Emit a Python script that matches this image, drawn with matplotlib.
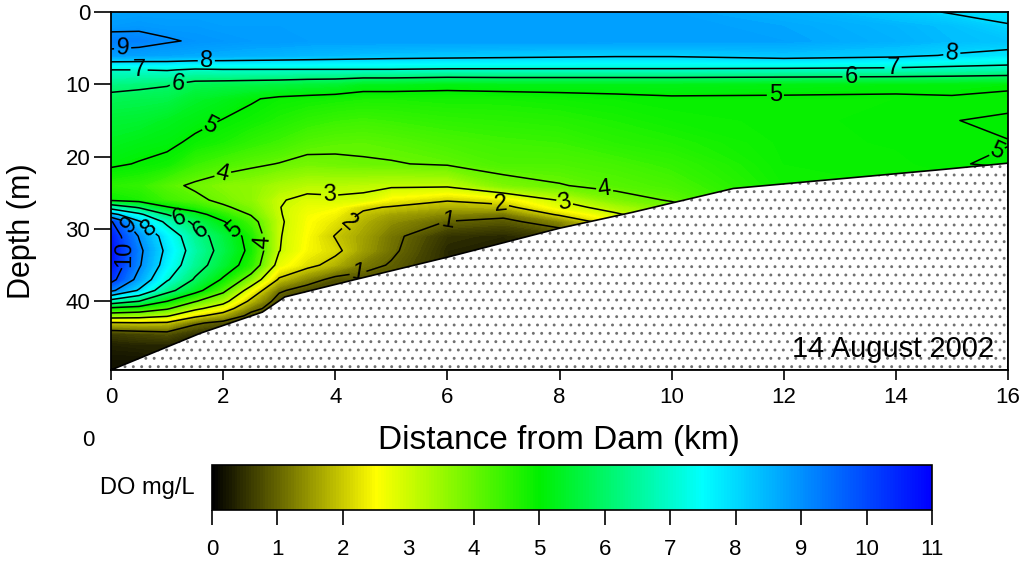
import numpy as np
import matplotlib
matplotlib.use("Agg")
import matplotlib.pyplot as plt
from matplotlib.colors import LinearSegmentedColormap, Normalize
from matplotlib.patches import Polygon

plt.rcParams['font.family'] = 'Liberation Sans'
plt.rcParams['hatch.linewidth'] = 0.9

# stations along the reservoir (km from dam) and sample depths (m)
distance_km = [0, 0.5, 1, 1.5, 2, 2.5, 3, 3.5, 4, 4.5, 5, 6, 7, 8, 9, 10, 12, 14, 15, 16]
depth_m = [0, 2, 4, 6, 8, 10, 12, 15, 18, 21, 24, 26, 27, 28, 29, 31,
           33, 35, 37, 38.5, 40, 41, 42, 43, 44.5, 46, 48, 50]

# dissolved oxygen (mg/L), one profile per station, top to bottom
do_profiles = [
    [8.7, 8.85, 9.25, 8.8, 7.0, 6.25, 5.8, 5.5, 5.3, 5.08, 4.6, 4.9, 6.6, 8.3,
     10.1, 10.6, 10.8, 10.7, 10.3, 9.2, 6.6, 4.8, 3.5, 1.9, 0.6, 0.35, 0.2, 0.1],
    [8.75, 8.9, 9.2, 8.75, 7.0, 6.15, 5.75, 5.45, 5.2, 4.97, 4.5, 4.75, 5.9, 7.2,
     8.1, 8.95, 9.2, 9.1, 8.7, 7.9, 6.0, 4.6, 3.4, 1.95, 0.7, 0.4, 0.2, 0.2],
    [8.75, 8.85, 9.05, 8.7, 7.05, 6.05, 5.7, 5.3, 5.12, 4.85, 4.15, 4.4, 5.05, 6.0,
     6.8, 7.6, 7.8, 7.6, 7.1, 6.3, 5.0, 4.1, 3.1, 1.9, 0.8, 0.4, 0.3, 0.3],
    [8.75, 8.85, 8.95, 8.65, 6.9, 5.75, 5.4, 5.15, 4.9, 4.45, 3.9, 4.15, 4.6, 5.3,
     5.8, 6.4, 6.6, 6.4, 5.9, 5.3, 4.05, 3.2, 2.2, 1.1, 0.5, 0.4, 0.4, 0.4],
    [8.75, 8.8, 8.9, 8.6, 6.95, 5.7, 5.25, 4.98, 4.75, 4.25, 3.7, 3.85, 4.1, 4.6,
     5.05, 5.6, 5.7, 5.5, 4.9, 4.2, 3.3, 2.5, 1.6, 0.8, 0.5, 0.5, 0.5, 0.5],
    [8.75, 8.8, 8.85, 8.55, 6.95, 5.65, 5.05, 4.85, 4.55, 4.1, 3.6, 3.6, 3.75, 3.95,
     4.3, 4.7, 4.8, 4.6, 3.6, 2.6, 1.8, 1.2, 0.8, 0.6, 0.6, 0.6, 0.6, 0.6],
    [8.75, 8.8, 8.85, 8.5, 6.95, 5.6, 4.9, 4.7, 4.4, 3.98, 3.35, 3.05, 3.02, 3.05,
     3.1, 3.05, 3.02, 2.7, 1.9, 1.1, 0.7, 0.7, 0.7, 0.7, 0.7, 0.7, 0.7, 0.7],
    [8.75, 8.8, 8.8, 8.45, 6.95, 5.5, 4.85, 4.55, 4.2, 3.85, 3.2, 2.85, 2.7, 2.6,
     2.55, 2.5, 2.45, 2.2, 1.3, 0.7, 0.6, 0.6, 0.6, 0.6, 0.6, 0.6, 0.6, 0.6],
    [8.75, 8.8, 8.8, 8.4, 6.95, 5.45, 4.8, 4.45, 4.12, 3.9, 3.2, 2.9, 2.6, 2.4,
     2.25, 1.97, 2.15, 1.75, 0.8, 0.8, 0.8, 0.8, 0.8, 0.8, 0.8, 0.8, 0.8, 0.8],
    [8.75, 8.8, 8.8, 8.35, 6.95, 5.25, 4.75, 4.4, 4.1, 3.95, 3.15, 2.85, 2.1, 1.9,
     1.75, 1.6, 1.55, 1.2, 0.8, 0.8, 0.8, 0.8, 0.8, 0.8, 0.8, 0.8, 0.8, 0.8],
    [8.75, 8.8, 8.8, 8.3, 6.95, 5.25, 4.75, 4.45, 4.15, 3.97, 3.1, 2.4, 1.95, 1.6,
     1.4, 1.15, 1.1, 0.95, 0.9, 0.9, 0.9, 0.9, 0.9, 0.9, 0.9, 0.9, 0.9, 0.9],
    [8.75, 8.8, 8.8, 8.25, 6.9, 5.15, 4.8, 4.55, 4.3, 4.06, 3.1, 2.05, 1.7, 1.3,
     0.98, 0.5, 0.4, 0.4, 0.4, 0.4, 0.4, 0.4, 0.4, 0.4, 0.4, 0.4, 0.4, 0.4],
    [8.75, 8.8, 8.8, 8.2, 6.9, 5.2, 4.8, 4.6, 4.4, 4.25, 3.75, 2.3, 1.8, 1.15,
     0.85, 0.4, 0.3, 0.3, 0.3, 0.3, 0.3, 0.3, 0.3, 0.3, 0.3, 0.3, 0.3, 0.3],
    [8.75, 8.8, 8.8, 8.15, 6.9, 5.2, 4.85, 4.65, 4.45, 4.25, 3.97, 3.05, 2.7, 2.1,
     1.3, 0.6, 0.6, 0.6, 0.6, 0.6, 0.6, 0.6, 0.6, 0.6, 0.6, 0.6, 0.6, 0.6],
    [8.75, 8.8, 8.8, 8.1, 6.9, 5.2, 4.9, 4.75, 4.6, 4.35, 4.15, 3.75, 3.3, 2.9,
     2.5, 2.2, 2.2, 2.2, 2.2, 2.2, 2.2, 2.2, 2.2, 2.2, 2.2, 2.2, 2.2, 2.2],
    [8.75, 8.8, 8.8, 8.1, 6.9, 5.2, 4.95, 4.85, 4.7, 4.5, 4.3, 4.05, 3.8, 3.6,
     3.5, 3.5, 3.5, 3.5, 3.5, 3.5, 3.5, 3.5, 3.5, 3.5, 3.5, 3.5, 3.5, 3.5],
    [8.55, 8.7, 8.75, 8.3, 6.85, 5.15, 4.95, 4.93, 4.92, 4.9, 4.85, 4.85, 4.85, 4.85,
     4.85, 4.85, 4.85, 4.85, 4.85, 4.85, 4.85, 4.85, 4.85, 4.85, 4.85, 4.85, 4.85, 4.85],
    [8.2, 8.5, 8.55, 8.15, 6.8, 5.1, 4.95, 4.97, 4.96, 4.93, 4.9, 4.9, 4.9, 4.9,
     4.9, 4.9, 4.9, 4.9, 4.9, 4.9, 4.9, 4.9, 4.9, 4.9, 4.9, 4.9, 4.9, 4.9],
    [7.95, 8.35, 8.4, 7.95, 6.7, 5.1, 4.97, 4.995, 4.98, 4.99, 4.9, 4.9, 4.9, 4.9,
     4.9, 4.9, 4.9, 4.9, 4.9, 4.9, 4.9, 4.9, 4.9, 4.9, 4.9, 4.9, 4.9, 4.9],
    [7.8, 8.05, 8.3, 7.8, 6.6, 5.05, 4.94, 5.03, 4.995, 5.02, 4.9, 4.9, 4.9, 4.9,
     4.9, 4.9, 4.9, 4.9, 4.9, 4.9, 4.9, 4.9, 4.9, 4.9, 4.9, 4.9, 4.9, 4.9],
]

# reservoir bottom profile
bottom_km = [0, 1.6, 2.7, 3.1, 4.3, 6.0, 8.0, 9.3, 11.1, 14.8, 16]
bottom_depth = [49.5, 44.4, 41.5, 39.4, 37.1, 33.9, 29.9, 27.7, 24.4, 21.8, 20.9]
max_depth = 49.5

contour_levels = [1, 2, 3, 4, 5, 6, 7, 8, 9, 10]
cbar_ticks = list(range(12))

# where the contour labels sit (km, m)
label_spots = [(0.2, 4.0), (1.7, 6.8), (0.5, 7.8), (1.2, 10.0), (1.8, 16.3),
               (2.0, 22.6), (3.9, 25.2), (4.3, 29.7), (6.0, 28.8), (4.4, 35.7),
               (0.25, 29.9), (0.7, 29.7), (1.2, 29.2), (1.6, 30.2), (2.15, 30.6),
               (2.7, 31.8), (0.07, 33.2), (8.8, 24.9), (8.1, 26.0), (6.95, 26.4),
               (11.85, 11.0), (13.2, 9.0), (13.95, 7.6), (15.0, 5.95), (15.85, 20.1)]

cmap = LinearSegmentedColormap.from_list(
    'do', [(0, '#000000'), (2.5 / 11, '#ffff00'), (5 / 11, '#00f000'),
           (7.5 / 11, '#00ffff'), (1, '#0000ff')])
norm = Normalize(0, 11)

do = np.array(do_profiles).T
X, Y = np.meshgrid(distance_km, depth_m)

fig = plt.figure(figsize=(10.26, 5.62), dpi=100)
ax = fig.add_axes([111 / 1026, 1 - 370 / 562, 897 / 1026, 358 / 562])

ax.contourf(X, Y, do, levels=np.linspace(0, 11, 221), cmap=cmap, norm=norm)
cs = ax.contour(X, Y, do, levels=contour_levels, colors='black', linewidths=1.1)
ax.clabel(cs, fmt='%d', fontsize=17, manual=label_spots, inline=True, inline_spacing=2)

bottom = np.column_stack([bottom_km + [16, 0], bottom_depth + [max_depth, max_depth]])
# dotted fill for the bed, then the bed line on top
ax.add_patch(Polygon(bottom, closed=True, facecolor='white', edgecolor='#707070',
                     hatch='..', lw=0, zorder=5))
ax.add_patch(Polygon(bottom, closed=True, facecolor='none', edgecolor='black',
                     lw=1.2, zorder=5.5))
ax.text(15.75, 46.6, '14 August 2002', fontsize=21, ha='right', va='center', zorder=6)

ax.set_xlim(0, 16)
ax.set_ylim(max_depth, 0)
ax.set_xticks(range(0, 17, 2))
ax.set_yticks(range(0, 41, 10))
ax.tick_params(axis='both', direction='out', labelsize=16, width=1.2)
ax.tick_params(axis='x', length=7, pad=5)
ax.tick_params(axis='y', length=12, pad=3)
for s in ax.spines.values():
    s.set_linewidth(1.3)
    s.set_zorder(7)

fig.text(22 / 1026, 1 - 231 / 562, 'Depth (m)', fontsize=22, rotation=90,
         ha='center', va='center')
fig.text(559 / 1026, 1 - 441 / 562, 'Distance from Dam (km)', fontsize=24,
         ha='center', va='center')
fig.text(88 / 1026, 1 - 440 / 562, '0', fontsize=16, ha='center', va='center')
fig.text(195 / 1026, 1 - 488 / 562, 'DO mg/L', fontsize=17, ha='right', va='center')

cax = fig.add_axes([212 / 1026, 1 - 510 / 562, 720 / 1026, 45 / 562])
sm = plt.cm.ScalarMappable(norm=norm, cmap=cmap)
cb = fig.colorbar(sm, cax=cax, orientation='horizontal', ticks=cbar_ticks)
cb.ax.tick_params(labelsize=16, length=11, width=1.2, pad=10)
cb.outline.set_linewidth(1.2)
cb.ax.xaxis.get_major_ticks()[3].tick1line.set_visible(False)

fig.savefig('out.png', dpi=100)
